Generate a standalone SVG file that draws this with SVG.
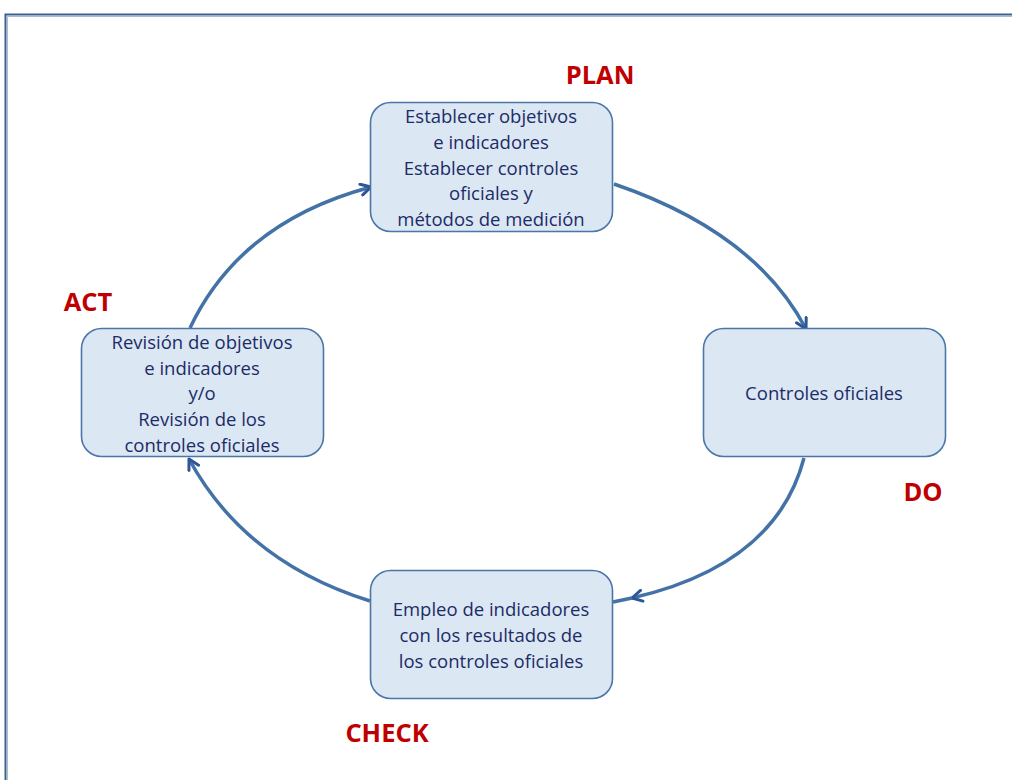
<svg xmlns="http://www.w3.org/2000/svg" width="1012" height="780" viewBox="0 0 1012 780">
<defs>
<style>
.box{fill:#dce7f4;stroke:#4a76a8;stroke-width:1.6}
.t{font-family:"Open Sans","Liberation Sans",sans-serif;font-size:18.5px;fill:#1b2c66;text-anchor:middle}
.lbl{font-family:"Open Sans","Liberation Sans",sans-serif;font-size:25.5px;font-weight:bold;fill:#c00000;text-anchor:middle}
.c{fill:none;stroke:#4372a6;stroke-width:3.5}
</style>
<marker id="ah" viewBox="0 0 14 14" refX="12" refY="7" markerWidth="14" markerHeight="14" markerUnits="userSpaceOnUse" orient="auto">
<path d="M2,1.5 L12,7 L2,12.5" fill="none" stroke="#2f5597" stroke-width="3" stroke-linecap="round" stroke-linejoin="round"/>
</marker>
</defs>
<rect x="0" y="0" width="1012" height="780" fill="#fff"/>
<path d="M1012,14.5 H5.5 V780" fill="none" stroke="#3a6190" stroke-width="2"/>
<path d="M1012,16.5 H7.5 V780" fill="none" stroke="#a9bcd3" stroke-width="1"/>
<g id="connectors">
<path class="c" d="M614,184 Q755,232 806,329" marker-end="url(#ah)"/>
<path class="c" d="M804,458 Q776,565 632,598" marker-end="url(#ah)"/>
<path class="c" d="M632,598 L613,602"/>
<path class="c" d="M370,601 Q245,562 189,459" marker-end="url(#ah)"/>
<path class="c" d="M190,328 Q240,222 371,187" marker-end="url(#ah)"/>
</g>
<g id="plan">
<rect class="box" x="370.5" y="102.5" width="242" height="129" rx="20"/>
<text class="t" x="491" y="123">Establecer objetivos</text>
<text class="t" x="491" y="149">e indicadores</text>
<text class="t" x="491" y="175">Establecer controles</text>
<text class="t" x="491" y="200">oficiales y</text>
<text class="t" x="491" y="226">métodos de medición</text>
<text class="lbl" x="600" y="84">PLAN</text>
</g>
<g id="do">
<rect class="box" x="703.5" y="328.5" width="242" height="128" rx="20"/>
<text class="t" x="824" y="400">Controles oficiales</text>
<text class="lbl" x="923" y="501">DO</text>
</g>
<g id="check">
<rect class="box" x="370.5" y="570.5" width="242" height="128" rx="20"/>
<text class="t" x="491" y="616">Empleo de indicadores</text>
<text class="t" x="491" y="642">con los resultados de</text>
<text class="t" x="491" y="668">los controles oficiales</text>
<text class="lbl" x="387" y="742">CHECK</text>
</g>
<g id="act">
<rect class="box" x="81.5" y="328.5" width="242" height="128" rx="20"/>
<text class="t" x="202" y="349">Revisión de objetivos</text>
<text class="t" x="202" y="375">e indicadores</text>
<text class="t" x="202" y="400">y/o</text>
<text class="t" x="202" y="426">Revisión de los</text>
<text class="t" x="202" y="452">controles oficiales</text>
<text class="lbl" x="88" y="311">ACT</text>
</g>
</svg>
